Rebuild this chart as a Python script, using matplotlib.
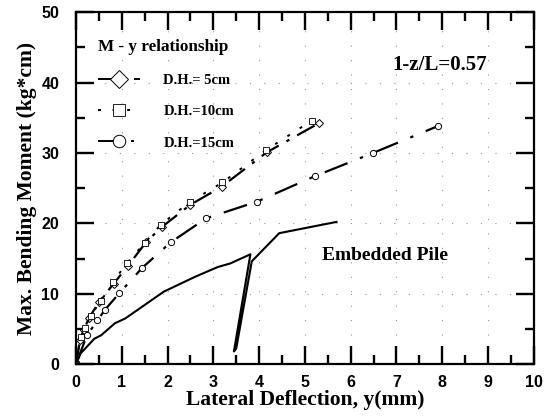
import matplotlib
matplotlib.use("Agg")
import matplotlib.pyplot as plt
from matplotlib.lines import Line2D
import matplotlib.ticker as ticker

# M - y data
dh5_y = [0.0, 0.09, 0.17, 0.28, 0.50, 0.82, 1.14, 1.54, 1.88, 2.49, 3.18, 4.17, 5.30]
dh5_m = [0.0, 3.4, 4.8, 6.5, 8.8, 11.4, 14.0, 17.4, 19.5, 22.6, 25.2, 30.1, 34.2]

dh10_y = [0.0, 0.10, 0.20, 0.32, 0.55, 0.80, 1.12, 1.50, 1.85, 2.48, 3.20, 4.15, 5.15]
dh10_m = [0.0, 3.8, 5.2, 6.9, 9.0, 11.6, 14.4, 17.2, 19.8, 23.0, 25.8, 30.4, 34.6]

dh15_y = [0.0, 0.24, 0.47, 0.63, 0.95, 1.45, 2.07, 2.84, 3.96, 5.22, 6.49, 7.90]
dh15_m = [0.0, 4.1, 6.2, 7.7, 10.1, 13.7, 17.3, 20.7, 23.1, 26.7, 30.0, 33.8]

pile_y = [0.0, 0.10, 0.40, 0.55, 0.85, 1.08, 1.92, 2.60, 3.10, 3.37, 3.81, 3.45, 3.50, 3.84, 4.44, 5.69]
pile_m = [0.0, 1.5, 3.6, 4.1, 5.8, 6.5, 10.3, 12.4, 13.8, 14.3, 15.6, 1.8, 2.2, 14.6, 18.6, 20.2]

x_ticks = [0, 1, 2, 3, 4, 5, 6, 7, 8, 9, 10]
y_ticks = [0, 10, 20, 30, 40, 50]

serif = ['Liberation Serif', 'DejaVu Serif']
sans = ['Liberation Sans', 'DejaVu Sans']

fig = plt.figure(figsize=(5.45, 4.19), dpi=100)
ax = fig.add_axes([0.1394, 0.131, 0.840, 0.840])

# faint dotted grid, like the scanned original
ax.grid(True, which='major', linestyle=(0, (1, 12)), color='#999999', linewidth=0.8)

ax.plot(dh5_y, dh5_m, color='black', linewidth=1.6, linestyle=(0, (9, 4, 1.5, 4)),
        marker='D', markersize=4.5, markerfacecolor='white', markeredgewidth=0.7)
ax.plot(dh10_y, dh10_m, color='black', linewidth=1.4, linestyle=(0, (1.5, 6)),
        marker='s', markersize=4, markerfacecolor='white', markeredgewidth=0.6)
ax.plot(dh15_y, dh15_m, color='black', linewidth=1.6, linestyle=(0, (11, 6, 1.5, 6)),
        marker='o', markersize=4.5, markerfacecolor='white', markeredgewidth=0.7)
ax.plot(pile_y, pile_m, color='black', linewidth=1.5)

ax.set_xlim(0, 10)
ax.set_ylim(0, 50)
ax.set_xticks(x_ticks)
ax.set_yticks(y_ticks)
ax.xaxis.set_minor_locator(ticker.MultipleLocator(0.5))
ax.yaxis.set_minor_locator(ticker.MultipleLocator(5))
ax.tick_params(which='both', direction='in', top=True, right=True, width=1.7)
ax.tick_params(axis='x', which='both', pad=8)
ax.tick_params(axis='y', which='both', pad=12)
ax.tick_params(which='major', length=13)
ax.tick_params(which='minor', length=6.5)
for lab in ax.get_xticklabels() + ax.get_yticklabels():
    lab.set_family(sans)
    lab.set_fontweight('bold')
    lab.set_fontsize(11.5)
for sp in ax.spines.values():
    sp.set_linewidth(1.6)

ax.set_xlabel('Lateral Deflection, y(mm)', family=serif, fontweight='bold', fontsize=15.5, labelpad=0)
ax.set_ylabel('Max. Bending Moment (kg*cm)', family=serif, fontweight='bold', fontsize=15.5, labelpad=3)

ax.text(6.92, 42.5, '1-z/L=0.57', family=serif, fontweight='bold', fontsize=15, va='center')
ax.text(5.37, 15.5, 'Embedded Pile', family=serif, fontweight='bold', fontsize=14, va='center')

handles = [
    Line2D([], [], color='black', linewidth=1.4, linestyle=(0, (9, 4, 1.5, 4)),
           marker='D', markersize=9, markerfacecolor='white', markeredgewidth=0.7, markevery=[1]),
    Line2D([], [], color='black', linewidth=1.4, linestyle=(0, (1.5, 6)),
           marker='s', markersize=8, markerfacecolor='white', markeredgewidth=0.6, markevery=[1]),
    Line2D([], [], color='black', linewidth=1.4, linestyle=(0, (11, 6, 1.5, 6)),
           marker='o', markersize=9, markerfacecolor='white', markeredgewidth=0.7, markevery=[1]),
]
for h in handles:
    h.set_data([0, 0.6, 1], [0, 0, 0])
leg = ax.legend(handles, ['D.H.= 5cm', 'D.H.=10cm', 'D.H.=15cm'],
                title='M - y relationship', loc='upper left', bbox_to_anchor=(0.025, 0.952),
                frameon=False, handlelength=2.9, handletextpad=1.6, labelspacing=1.25,
                borderpad=0.2, prop={'family': serif, 'weight': 'bold', 'size': 10.5})
leg.get_title().set_family(serif)
leg.get_title().set_fontweight('bold')
leg.get_title().set_fontsize(12.3)
leg._legend_box.align = 'left'

fig.savefig('out.png', dpi=100)
